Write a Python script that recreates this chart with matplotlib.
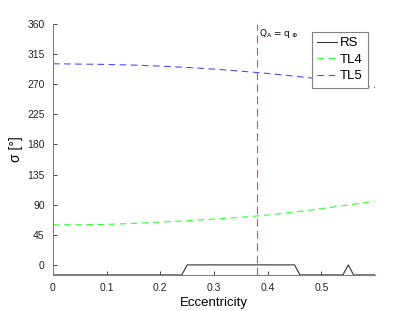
import matplotlib
matplotlib.use("Agg")
import matplotlib.pyplot as plt

# eccentricity grid and curves
ecc = [0, 0.05, 0.1, 0.15, 0.2, 0.25, 0.3, 0.35, 0.4, 0.45, 0.5, 0.55, 0.6]
tl4 = [60, 60, 60.5, 62, 64, 66, 68.5, 71, 74.5, 79, 84, 89.5, 95]
tl5 = [300.5, 300, 299.5, 298.5, 297, 295, 292.5, 289.5, 286, 282, 277.5, 272, 265]

rs_ecc = [0, 0.24, 0.25, 0.45, 0.46, 0.54, 0.55, 0.56, 0.6]
rs_val = [-15, -15, 0, 0, -15, -15, 0, -15, -15]

q_equal = 0.38
yticks = [0, 45, 90, 135, 180, 225, 270, 315, 360]
xticks = [0, 0.1, 0.2, 0.3, 0.4, 0.5]

plt.rcParams["font.family"] = ["Liberation Sans", "DejaVu Sans"]

fig = plt.figure(figsize=(4.14, 3.11), dpi=100)
ax = fig.add_axes([0.128, 0.116, 0.778, 0.807])

ax.plot(rs_ecc, rs_val, color="#333333", lw=0.8, label="RS")
ax.plot(ecc, tl4, color="#33ff33", lw=0.8, dashes=(6, 4), label="TL4")
ax.plot(ecc, tl5, color="#4d4dff", lw=0.8, dashes=(6, 4), label="TL5")

ax.axvline(q_equal, color="#e84a4a", lw=0.8, dashes=(7, 4))
ax.text(q_equal + 0.004, 355, r"Q$_\mathrm{A}$ = q$_\oplus$", fontsize=6.5,
        va="top", ha="left", family=["DejaVu Sans"])

ax.set_xlim(0, 0.6)
ax.set_ylim(-15, 360)
ax.set_xticks(xticks)
ax.set_xticklabels(["0", "0.1", "0.2", "0.3", "0.4", "0.5"])
ax.set_yticks(yticks)
ax.tick_params(direction="in", length=3, width=0.6, colors="#262626",
               labelsize=7.5, pad=6)
for s in ["top", "right"]:
    ax.spines[s].set_visible(False)
for s in ["left", "bottom"]:
    ax.spines[s].set_color("#808080")
    ax.spines[s].set_linewidth(0.8)

ax.set_xlabel("Eccentricity", fontsize=9.5, labelpad=3)
ax.set_ylabel("σ [°]", fontsize=10, labelpad=3)

leg = ax.legend(loc="upper right", bbox_to_anchor=(0.978, 0.968), fontsize=9.5,
                fancybox=False, framealpha=1, edgecolor="#808080",
                handlelength=1.5, handletextpad=0.25, borderpad=0.4,
                labelspacing=0.32, borderaxespad=0)
leg.get_frame().set_linewidth(0.8)

fig.savefig("out.png", dpi=100)
